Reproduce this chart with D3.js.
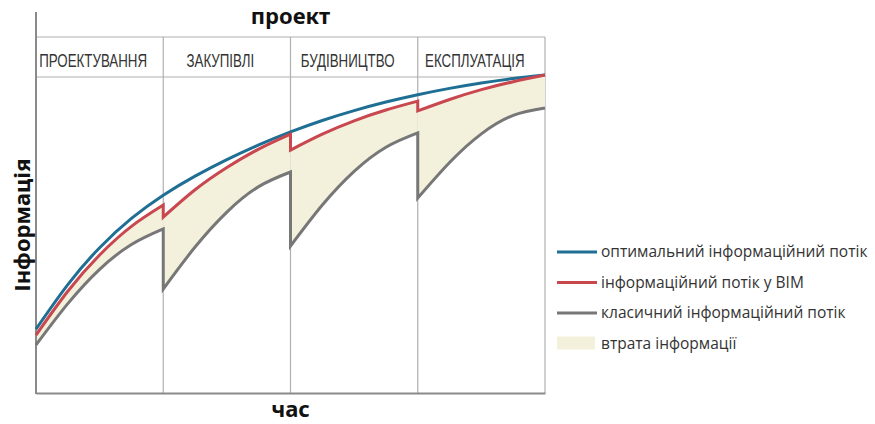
<!DOCTYPE html>
<html>
<head>
<meta charset="utf-8">
<script src="https://cdn.jsdelivr.net/npm/d3@7"></script>
<style>
  html, body { margin: 0; padding: 0; background: #fff; }
  svg { display: block; }
</style>
</head>
<body>
<svg id="chart" width="875" height="424"></svg>
<script>
// ---------------- DATA ----------------
const phases = ["ПРОЕКТУВАННЯ", "ЗАКУПІВЛІ", "БУДІВНИЦТВО", "ЕКСПЛУАТАЦІЯ"];
const phaseBounds = [0, 1, 2, 3, 4];

// optimal information flow (single smooth curve)
const optimalT = [0, 0.25, 0.5, 0.75, 1, 1.25, 1.5, 1.75, 2, 2.25, 2.5, 2.75, 3, 3.25, 3.5, 3.75, 4];
const optimalV = [20.1, 34.1, 45.7, 54.9, 62.2, 68.2, 73.4, 78.0, 82.1, 85.7, 88.8, 91.5, 93.8, 95.8, 97.5, 98.9, 100];

// per phase samples (t offsets within each phase)
const phaseT = [0, 0.25, 0.5, 0.75, 1];
// BIM information flow, one array per phase
const bimV = [
  [18.2, 32.0, 43.4, 52.4, 59.1],
  [55.3, 63.9, 70.9, 76.7, 81.4],
  [76.4, 81.4, 85.6, 89.0, 91.8],
  [88.7, 92.3, 95.4, 97.9, 100]
];
// classic information flow, one array per phase
const classicV = [
  [15.1, 28.1, 38.9, 46.7, 51.6],
  [32.7, 45.9, 56.9, 64.9, 69.5],
  [46.2, 59.1, 69.7, 77.3, 81.8],
  [61.3, 72.5, 81.5, 87.3, 89.6]
];

const titleTop = "проект";
const xTitle = "час";
const yTitle = "Інформація";
const legendItems = [
  { label: "оптимальний інформаційний потік", type: "line", key: "optimal" },
  { label: "інформаційний потік у BIM", type: "line", key: "bim" },
  { label: "класичний інформаційний потік", type: "line", key: "classic" },
  { label: "втрата інформації", type: "rect", key: "loss" }
];

// ---------------- STYLE ----------------
const colors = {
  optimal: "#1f6f94",
  bim: "#c9474f",
  classic: "#777777",
  loss: "#f3f1dc"
};

const svg = d3.select("#chart");
const plotL = 36, plotR = 545, plotB = 393, valTop = 75;
const headTop = 37, headBot = 77;

const x = d3.scaleLinear().domain([0, 4]).range([plotL, plotR]);
const y = d3.scaleLinear().domain([0, 100]).range([plotB, valTop]);

// header lines
svg.append("g").selectAll("line").data([headTop, headBot]).join("line")
  .attr("x1", plotL).attr("x2", plotR)
  .attr("y1", d => d).attr("y2", d => d)
  .attr("stroke", "#b0b0b0").attr("stroke-width", 1.2);

// phase dividers
svg.append("g").selectAll("line").data(phaseBounds.slice(1)).join("line")
  .attr("x1", d => x(d)).attr("x2", d => x(d))
  .attr("y1", headTop).attr("y2", plotB)
  .attr("stroke", "#b0b0b0").attr("stroke-width", 1.2);

// phase labels
const labelG = svg.append("g");
phases.forEach((p, i) => {
  const cx = (x(phaseBounds[i]) + x(phaseBounds[i + 1])) / 2 - 6.5;
  labelG.append("text")
    .attr("font-family", "Liberation Sans, Arial, sans-serif")
    .attr("font-size", 18.5)
    .attr("fill", "#333")
    .attr("text-anchor", "middle")
    .attr("transform", `translate(${cx},67) scale(0.72,1)`)
    .text(p);
});

const curve = d3.curveNatural;

// fill between BIM and classic
const area = d3.area()
  .x(d => x(d.t)).y0(d => y(d.lo)).y1(d => y(d.hi))
  .curve(curve);
phases.forEach((p, i) => {
  const pts = phaseT.map((dt, j) => ({ t: phaseBounds[i] + dt, lo: classicV[i][j], hi: bimV[i][j] }));
  svg.append("path").attr("d", area(pts)).attr("fill", colors.loss).attr("stroke", "none");
});

// stepped-curve builder: phase segments joined by vertical drops
const line = d3.line().x(d => x(d.t)).y(d => y(d.v)).curve(curve);
function jagged(vals) {
  let d = "";
  vals.forEach((arr, i) => {
    const pts = phaseT.map((dt, j) => ({ t: phaseBounds[i] + dt, v: arr[j] }));
    let s = line(pts);
    if (i > 0) s = "L" + s.slice(1);
    d += s;
  });
  return d;
}

// axes
svg.append("line").attr("x1", plotL).attr("x2", plotL).attr("y1", 12).attr("y2", plotB + 1)
  .attr("stroke", "#8a8a8a").attr("stroke-width", 2);
const xAxis = d3.axisBottom(x).tickValues([]).tickSizeOuter(0);
const xg = svg.append("g").attr("transform", `translate(0,${plotB})`).call(xAxis);
xg.select(".domain").attr("stroke", "#8a8a8a").attr("stroke-width", 2);

// lines
svg.append("path").attr("d", jagged(classicV)).attr("fill", "none")
  .attr("stroke", colors.classic).attr("stroke-width", 3).attr("stroke-linejoin", "miter");
svg.append("path")
  .attr("d", line(optimalT.map((t, i) => ({ t, v: optimalV[i] }))))
  .attr("fill", "none").attr("stroke", colors.optimal).attr("stroke-width", 3);
svg.append("path").attr("d", jagged(bimV)).attr("fill", "none")
  .attr("stroke", colors.bim).attr("stroke-width", 3).attr("stroke-linejoin", "miter");

// titles
svg.append("text").attr("x", (plotL + plotR) / 2).attr("y", 24)
  .attr("text-anchor", "middle").attr("font-family", "Noto Sans, sans-serif")
  .attr("font-weight", 700).attr("font-size", 22).attr("fill", "#111").text(titleTop);
svg.append("text").attr("x", (plotL + plotR) / 2).attr("y", 417)
  .attr("text-anchor", "middle").attr("font-family", "Noto Sans, sans-serif")
  .attr("font-weight", 700).attr("font-size", 22).attr("fill", "#111").text(xTitle);
svg.append("text")
  .attr("transform", `translate(30,225) rotate(-90)`)
  .attr("text-anchor", "middle").attr("font-family", "Noto Sans, sans-serif")
  .attr("font-weight", 700).attr("font-size", 22).attr("fill", "#111").text(yTitle);

// legend
const lg = svg.append("g").attr("transform", "translate(557,252)");
legendItems.forEach((it, i) => {
  const g = lg.append("g").attr("transform", `translate(0,${i * 30.5})`);
  if (it.type === "line") {
    g.append("line").attr("x1", 0).attr("x2", 40).attr("y1", 0).attr("y2", 0)
      .attr("stroke", colors[it.key]).attr("stroke-width", 3);
  } else {
    g.append("rect").attr("x", 0).attr("y", -7).attr("width", 38).attr("height", 13)
      .attr("fill", colors[it.key]);
  }
  g.append("text").attr("x", 44).attr("y", 5)
    .attr("font-family", "Open Sans, sans-serif").attr("font-size", 15.5)
    .attr("fill", "#333").text(it.label);
});
</script>
</body>
</html>
